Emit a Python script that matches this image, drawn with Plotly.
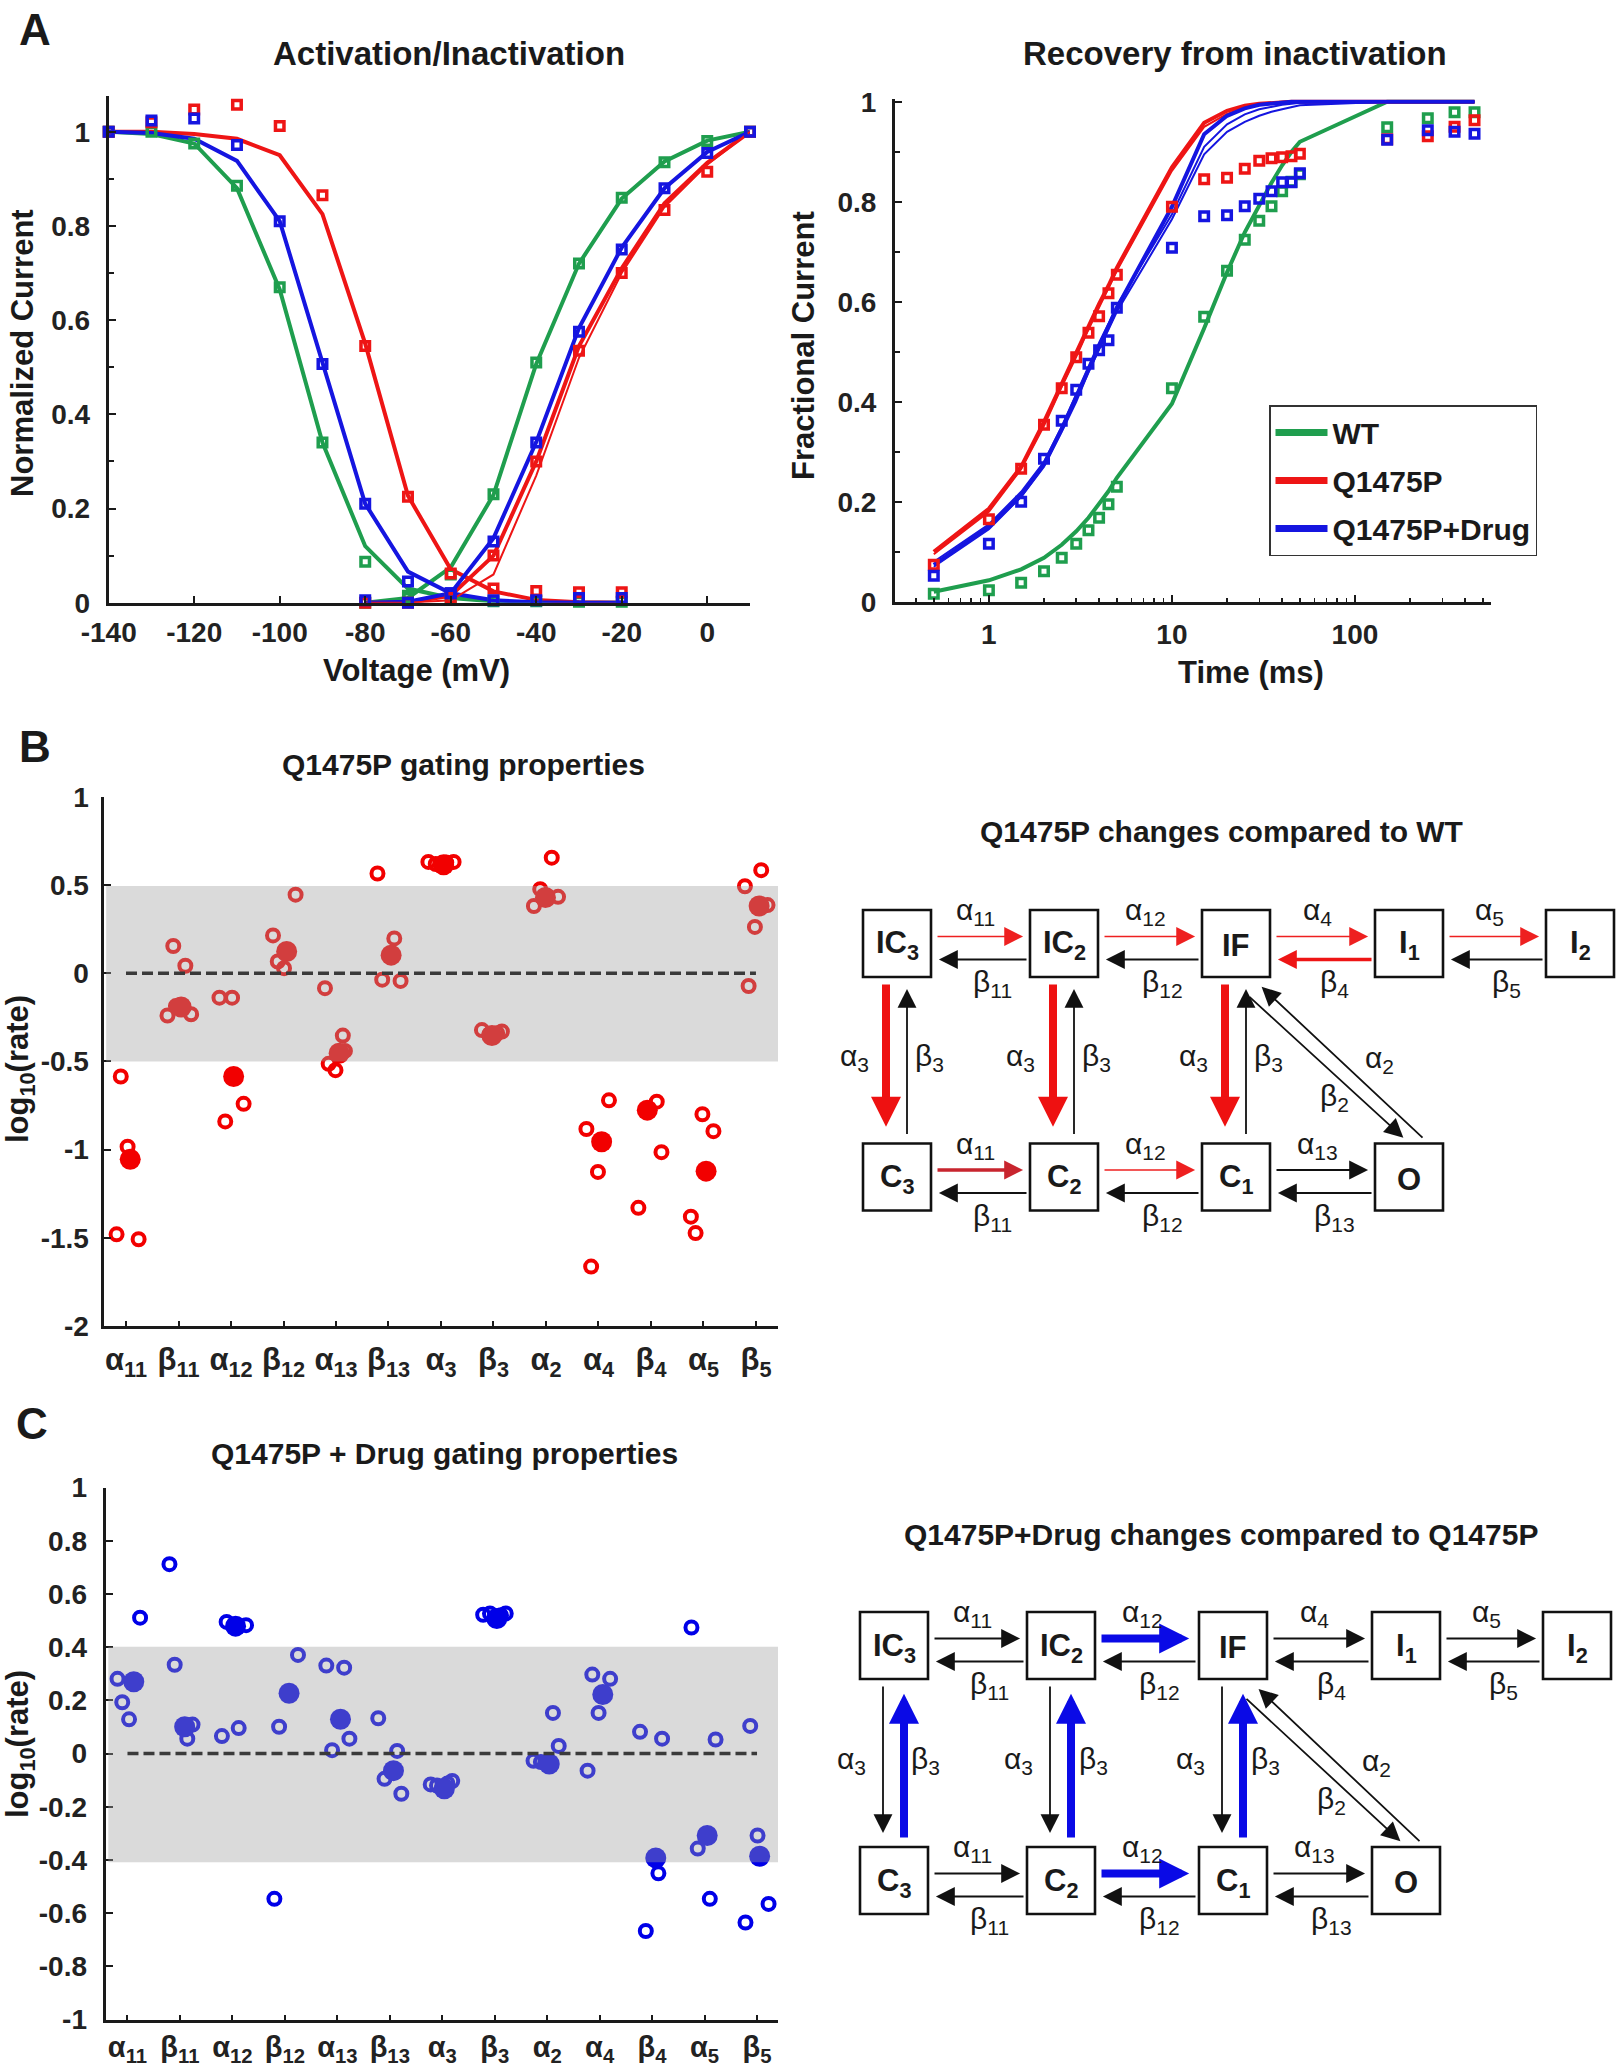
import plotly.graph_objects as go

W, H = 1616, 2070
FONT = "Arial, Liberation Sans, Helvetica, sans-serif"
INK = "#1a1a1a"

GREEN = "#1f9e4e"
RED = "#ee1515"
BLUE = "#1515e0"
DOT_RED = "#f20000"
DOT_BLUE = "#0000e8"

# ---------------------------------------------------------------- panel A left
V_INACT = [-140, -130, -120, -110, -100, -90, -80, -70, -60, -50, -40, -30, -20]
V_ACT = [-80, -70, -60, -50, -40, -30, -20, -10, 0, 10]

INACT_FIT = {
    "WT": [1.0, 0.995, 0.975, 0.88, 0.665, 0.34, 0.12, 0.03, 0.01, 0.003, 0.0, 0.0, 0.0],
    "Q1475P": [1.0, 1.0, 0.995, 0.985, 0.95, 0.825, 0.55, 0.227, 0.071, 0.024, 0.006, 0.001, 0.0],
    "Drug": [1.0, 0.997, 0.985, 0.938, 0.81, 0.507, 0.21, 0.066, 0.02, 0.005, 0.001, 0.0, 0.0],
}
INACT_OBS = {
    "WT": [1.0, 1.0, 0.975, 0.885, 0.67, 0.34, 0.087, 0.015, 0.01, 0.003, 0.003, 0.002, 0.002],
    "Q1475P": [1.0, 1.02, 1.047, 1.057, 1.012, 0.865, 0.545, 0.225, 0.062, 0.03, 0.025, 0.022, 0.022],
    "Drug": [1.0, 1.024, 1.028, 0.972, 0.81, 0.507, 0.21, 0.045, 0.02, 0.005, 0.005, 0.01, 0.01],
}
ACT_FIT = {
    "WT": [0.0, 0.01, 0.075, 0.229, 0.507, 0.72, 0.858, 0.937, 0.981, 1.0],
    "Q1475P": [0.0, 0.0, 0.015, 0.10, 0.30, 0.545, 0.71, 0.848, 0.934, 1.0],
    "Drug": [0.0, 0.002, 0.02, 0.137, 0.341, 0.583, 0.754, 0.88, 0.957, 1.0],
}
ACT_FIT_RED_ALT = [0.0, 0.0, 0.005, 0.06, 0.27, 0.52, 0.70, 0.84, 0.93, 1.0]
ACT_OBS = {
    "WT": [0.0, 0.01, 0.06, 0.23, 0.51, 0.72, 0.86, 0.935, 0.98, 1.0],
    "Q1475P": [0.0, 0.0, 0.01, 0.10, 0.30, 0.535, 0.70, 0.834, 0.915, 1.0],
    "Drug": [0.005, 0.0, 0.02, 0.13, 0.34, 0.575, 0.75, 0.88, 0.955, 1.0],
}

# --------------------------------------------------------------- panel A right
T_REC = [0.5, 1, 1.5, 2, 2.5, 3, 3.5, 4, 4.5, 5, 10, 15, 20, 25, 30, 35, 40, 45, 50,
         150, 250, 350, 450]
REC_OBS = {
    "WT": [0.016, 0.023, 0.038, 0.061, 0.088, 0.116, 0.143, 0.168, 0.195, 0.23, 0.427,
           0.57, 0.662, 0.724, 0.762, 0.791, 0.821, 0.84, 0.855, 0.949, 0.967, 0.979, 0.979],
    "Q1475P": [0.074, 0.165, 0.266, 0.354, 0.427, 0.489, 0.538, 0.571, 0.617, 0.654, 0.79,
               0.845, 0.848, 0.866, 0.882, 0.887, 0.889, 0.891, 0.896, 0.925, 0.931, 0.95, 0.963],
    "Drug": [0.052, 0.116, 0.2, 0.286, 0.362, 0.424, 0.476, 0.503, 0.523, 0.588, 0.708,
             0.771, 0.773, 0.791, 0.806, 0.821, 0.839, 0.839, 0.857, 0.924, 0.943, 0.94, 0.936],
}
REC_FIT_WT = [0.02, 0.043, 0.065, 0.088, 0.114, 0.141, 0.168, 0.195, 0.221, 0.248, 0.396,
              0.547, 0.659, 0.739, 0.793, 0.838, 0.873, 0.90, 0.92, 1.0, 1.0, 1.0, 1.0]
REC_FIT_RED = [
    [0.10, 0.186, 0.27, 0.36, 0.436, 0.498, 0.552, 0.596, 0.632, 0.668, 0.869,
     0.958, 0.982, 0.992, 0.996, 0.998, 1.0, 1.0, 1.0, 1.0, 1.0, 1.0, 1.0],
    [0.095, 0.18, 0.265, 0.352, 0.43, 0.49, 0.545, 0.59, 0.627, 0.662, 0.862,
     0.95, 0.976, 0.988, 0.994, 0.997, 0.999, 1.0, 1.0, 1.0, 1.0, 1.0, 1.0],
]
REC_FIT_BLUE = [
    [0.074, 0.15, 0.213, 0.275, 0.346, 0.409, 0.467, 0.512, 0.552, 0.588, 0.79,
     0.935, 0.972, 0.987, 0.994, 0.997, 0.999, 1.0, 1.0, 1.0, 1.0, 1.0, 1.0],
    [0.08, 0.155, 0.22, 0.28, 0.35, 0.415, 0.47, 0.518, 0.556, 0.592, 0.775,
     0.91, 0.955, 0.975, 0.985, 0.99, 0.994, 0.996, 0.998, 1.0, 1.0, 1.0, 1.0],
    [0.07, 0.145, 0.21, 0.27, 0.34, 0.40, 0.46, 0.505, 0.545, 0.58, 0.765,
     0.895, 0.94, 0.96, 0.972, 0.98, 0.985, 0.99, 0.993, 1.0, 1.0, 1.0, 1.0],
]

# ------------------------------------------------------------ panels B/C dots
RATES = ["α<sub>11</sub>", "β<sub>11</sub>", "α<sub>12</sub>", "β<sub>12</sub>",
         "α<sub>13</sub>", "β<sub>13</sub>", "α<sub>3</sub>", "β<sub>3</sub>",
         "α<sub>2</sub>", "α<sub>4</sub>", "β<sub>4</sub>", "α<sub>5</sub>", "β<sub>5</sub>"]

# (jitter offset, log10 rate) of the individual fits, one list per rate
Q_FITS = [
    [(-0.10, -0.585), (0.03, -0.983), (-0.18, -1.48), (0.24, -1.508)],
    [(-0.10, 0.155), (0.13, 0.043), (-0.21, -0.239), (0.24, -0.232), (-0.05, -0.186)],
    [(-0.22, -0.138), (0.02, -0.138), (-0.11, -0.84), (0.24, -0.74)],
    [(-0.20, 0.215), (0.23, 0.446), (-0.11, 0.067), (0.01, 0.029)],
    [(-0.21, -0.084), (0.13, -0.353), (0.17, -0.44), (-0.14, -0.513), (-0.01, -0.549)],
    [(-0.21, 0.566), (0.11, 0.198), (-0.12, -0.036), (0.23, -0.043)],
    [(-0.24, 0.632), (-0.10, 0.62), (0.10, 0.628), (0.24, 0.632)],
    [(-0.22, -0.322), (-0.08, -0.346), (0.16, -0.33), (0.07, -0.34)],
    [(0.11, 0.656), (-0.11, 0.477), (-0.23, 0.382), (0.23, 0.434)],
    [(0.20, -0.72), (-0.23, -0.883), (-0.01, -1.126), (-0.14, -1.663)],
    [(0.11, -0.728), (0.20, -1.014), (-0.24, -1.33)],
    [(-0.02, -0.799), (0.19, -0.895), (-0.24, -1.38), (-0.15, -1.473)],
    [(0.10, 0.585), (-0.21, 0.494), (0.22, 0.387), (-0.02, 0.263), (-0.14, -0.072)],
]
Q_MEAN = [(0.08, -1.055), (0.05, -0.191), (0.05, -0.585), (0.06, 0.124), (0.06, -0.453),
          (0.05, 0.103), (0.05, 0.616), (-0.03, -0.353), (-0.01, 0.43), (0.06, -0.955),
          (-0.07, -0.776), (0.05, -1.122), (0.06, 0.382)]

D_FITS = [
    [(-0.19, 0.281), (-0.10, 0.193), (0.03, 0.129), (0.24, 0.511)],
    [(-0.20, 0.712), (-0.10, 0.334), (0.24, 0.109), (0.14, 0.056)],
    [(-0.11, 0.495), (0.26, 0.483), (-0.20, 0.066), (0.12, 0.096)],
    [(0.25, 0.371), (-0.11, 0.101), (-0.20, -0.546)],
    [(-0.21, 0.331), (0.13, 0.323), (0.23, 0.056), (-0.10, 0.013)],
    [(-0.22, 0.133), (0.14, 0.01), (-0.10, -0.095), (0.22, -0.151)],
    [(-0.22, -0.116), (-0.10, -0.12), (0.19, -0.103), (0.10, -0.112)],
    [(-0.22, 0.522), (-0.09, 0.527), (0.21, 0.527), (0.12, 0.52)],
    [(0.11, 0.153), (0.22, 0.029), (-0.26, -0.027), (-0.12, -0.032)],
    [(-0.14, 0.297), (0.20, 0.281), (-0.02, 0.153), (-0.23, -0.064)],
    [(-0.23, 0.082), (0.19, 0.056), (0.12, -0.45), (-0.12, -0.667)],
    [(-0.25, 0.474), (0.21, 0.053), (-0.13, -0.357), (0.10, -0.546)],
    [(-0.13, 0.104), (0.01, -0.308), (0.22, -0.565), (-0.22, -0.635)],
]
D_MEAN = [(0.12, 0.27), (0.09, 0.101), (0.06, 0.479), (0.08, 0.227), (0.06, 0.129),
          (0.07, -0.064), (0.04, -0.132), (0.04, 0.508), (0.04, -0.039), (0.06, 0.222),
          (0.07, -0.392), (0.05, -0.308), (0.05, -0.386)]

# --------------------------------------------------------- Markov scheme (B/C)
STATES = {
    "IC3": (0, 0, "IC<sub>3</sub>"), "IC2": (1, 0, "IC<sub>2</sub>"), "IF": (2, 0, "IF"),
    "I1": (3, 0, "I<sub>1</sub>"), "I2": (4, 0, "I<sub>2</sub>"),
    "C3": (0, 1, "C<sub>3</sub>"), "C2": (1, 1, "C<sub>2</sub>"), "C1": (2, 1, "C<sub>1</sub>"),
    "O": (3, 1, "O"),
}
H_LINKS = [("IC3", "IC2", "11"), ("IC2", "IF", "12"), ("IF", "I1", "4"), ("I1", "I2", "5"),
           ("C3", "C2", "11"), ("C2", "C1", "12"), ("C1", "O", "13")]
V_LINKS = [("IC3", "C3"), ("IC2", "C2"), ("IF", "C1")]

ARROW_STYLES = {
    "k": dict(color="#111111", width=1.8, size=2.1),
    "r_thin": dict(color="#ee2020", width=1.3, size=2.9),
    "r_mid": dict(color="#ee1515", width=3.6, size=1.05),
    "r_dark": dict(color="#c8252e", width=3.6, size=1.05),
    "r_bold": dict(color="#ee1111", width=8, size=0.75),
    "b_bold": dict(color="#0a0ae6", width=8, size=0.75),
}
SCHEME_B = {("IC3", "IC2"): "r_thin", ("IC2", "IF"): "r_thin", ("IF", "I1"): "r_thin",
            ("I1", "I2"): "r_thin", ("C3", "C2"): "r_dark", ("C2", "C1"): "r_thin",
            ("I1", "IF"): "r_mid", ("IC3", "C3"): "r_bold", ("IC2", "C2"): "r_bold",
            ("IF", "C1"): "r_bold"}
SCHEME_C = {("IC2", "IF"): "b_bold", ("C2", "C1"): "b_bold", ("C3", "IC3"): "b_bold",
            ("C2", "IC2"): "b_bold", ("C1", "IF"): "b_bold"}


def X(px):
    return px / W


def Y(py):
    return 1 - py / H


annotations = []
shapes = []


def text(s, x, y, size, bold=True, angle=0, color=INK):
    annotations.append(dict(
        text=s, x=X(x), y=Y(y), xref="paper", yref="paper", showarrow=False,
        xanchor="center", yanchor="middle", textangle=angle,
        font=dict(family=FONT, size=size, color=color, weight="bold" if bold else "normal"),
    ))


def arrow(tail, head, style):
    st = ARROW_STYLES[style]
    scale = st["width"] * st["size"]
    annotations.append(dict(
        text="", x=X(head[0]), y=Y(head[1]), xref="paper", yref="paper",
        ax=tail[0] - head[0], ay=tail[1] - head[1], axref="pixel", ayref="pixel",
        showarrow=True, arrowhead=2, arrowcolor=st["color"], arrowwidth=st["width"],
        arrowsize=st["size"], standoff=1.3 * scale,
    ))


def draw_scheme(cols, rows, overrides, title, title_y):
    hw, hh = 34, 33.5
    pos = {k: (cols[c], rows[r]) for k, (c, r, _) in STATES.items()}
    text(title, 1221, title_y, 30)
    for k, (c, r, lab) in STATES.items():
        x, y = pos[k]
        shapes.append(dict(type="rect", xref="paper", yref="paper",
                           x0=X(x - hw), x1=X(x + hw), y0=Y(y + hh), y1=Y(y - hh),
                           line=dict(color="#111111", width=2.6), fillcolor="white"))
        text(lab, x, y + 2, 31)
    for a, b, sub in H_LINKS:
        (xa, y), (xb, _) = pos[a], pos[b]
        arrow((xa + hw + 5, y - 7), (xb - hw - 2, y - 7), overrides.get((a, b), "k"))
        arrow((xb - hw - 2, y + 16), (xa + hw + 3, y + 16), overrides.get((b, a), "k"))
        mid = (xa + xb) / 2
        text(f"α<sub>{sub}</sub>", mid - 5, y - 32, 30, bold=False)
        text(f"β<sub>{sub}</sub>", mid + 12, y + 40, 30, bold=False)
    for a, b in V_LINKS:
        (x, ya), (_, yb) = pos[a], pos[b]
        arrow((x - 11, ya + hh + 6), (x - 11, yb - hh - 9), overrides.get((a, b), "k"))
        arrow((x + 10, yb - hh - 8), (x + 10, ya + hh + 7), overrides.get((b, a), "k"))
        ym = (ya + yb) / 2 - 3
        text("α<sub>3</sub>", x - 43, ym, 30, bold=False)
        text("β<sub>3</sub>", x + 32, ym, 30, bold=False)
    (xi, yi), (xo, yo) = pos["IF"], pos["O"]
    arrow((xi + 12, yi + 52), (xo - 2, yo - 36), "k")
    arrow((xo + 15, yo - 38), (xi + 22, yi + 40), "k")
    text("α<sub>2</sub>", xo - 30, yo - 118, 30, bold=False)
    text("β<sub>2</sub>", xo - 75, yo - 80, 30, bold=False)


fig = go.Figure()

# ---- A left
keys = [("WT", GREEN), ("Q1475P", RED), ("Drug", BLUE)]
for key, col in keys:
    fig.add_trace(go.Scatter(x=V_INACT, y=INACT_FIT[key], mode="lines", line=dict(color=col, width=4),
                             xaxis="x", yaxis="y", showlegend=False, hoverinfo="skip"))
    fig.add_trace(go.Scatter(x=V_ACT, y=ACT_FIT[key], mode="lines", line=dict(color=col, width=4),
                             xaxis="x", yaxis="y", showlegend=False, hoverinfo="skip"))
fig.add_trace(go.Scatter(x=V_ACT, y=ACT_FIT_RED_ALT, mode="lines", line=dict(color=RED, width=2),
                         xaxis="x", yaxis="y", showlegend=False, hoverinfo="skip"))
for key, col in keys:
    mk = dict(symbol="square-open", size=8.5, color=col, line=dict(width=3.5))
    fig.add_trace(go.Scatter(x=V_INACT, y=INACT_OBS[key], mode="markers", marker=mk,
                             xaxis="x", yaxis="y", showlegend=False, cliponaxis=False))
    fig.add_trace(go.Scatter(x=V_ACT, y=ACT_OBS[key], mode="markers", marker=mk,
                             xaxis="x", yaxis="y", showlegend=False, cliponaxis=False))

# ---- A right
fig.add_trace(go.Scatter(x=T_REC, y=REC_FIT_WT, mode="lines", line=dict(color=GREEN, width=4),
                         xaxis="x2", yaxis="y2", showlegend=False))
for i, ys in enumerate(REC_FIT_RED):
    fig.add_trace(go.Scatter(x=T_REC, y=ys, mode="lines", line=dict(color=RED, width=4 if i == 0 else 2),
                             xaxis="x2", yaxis="y2", showlegend=False))
for i, ys in enumerate(REC_FIT_BLUE):
    fig.add_trace(go.Scatter(x=T_REC, y=ys, mode="lines", line=dict(color=BLUE, width=4 if i == 0 else 2),
                             xaxis="x2", yaxis="y2", showlegend=False))
for key, col in keys:
    fig.add_trace(go.Scatter(x=T_REC, y=REC_OBS[key], mode="markers",
                             marker=dict(symbol="square-open", size=8.5, color=col, line=dict(width=3.5)),
                             xaxis="x2", yaxis="y2", showlegend=False, cliponaxis=False))
for (key, col), name in zip(keys, ["WT", "Q1475P", "Q1475P+Drug"]):
    fig.add_trace(go.Scatter(x=[None], y=[None], mode="lines", name=name, legendgroup=name,
                             line=dict(color=col, width=7), xaxis="x2", yaxis="y2"))

# ---- B and C dot plots
for fits, means, col, xa, ya in [(Q_FITS, Q_MEAN, DOT_RED, "x3", "y3"),
                                 (D_FITS, D_MEAN, DOT_BLUE, "x4", "y4")]:
    xs = [i + 1 + off for i, pts in enumerate(fits) for off, _ in pts]
    ys = [v for pts in fits for _, v in pts]
    fig.add_trace(go.Scatter(x=xs, y=ys, mode="markers", xaxis=xa, yaxis=ya, showlegend=False,
                             marker=dict(symbol="circle-open", size=12, color=col, line=dict(width=4))))
    fig.add_trace(go.Scatter(x=[i + 1 + m[0] for i, m in enumerate(means)], y=[m[1] for m in means],
                             mode="markers", xaxis=xa, yaxis=ya, showlegend=False,
                             marker=dict(symbol="circle", size=21, color=col, line=dict(width=0))))

# gray band sits on top of the dots (translucent), then the zero reference
for xa, ya, lo, hi in [("x3", "y3", -0.5, 0.495), ("x4", "y4", -0.408, 0.402)]:
    shapes.append(dict(type="rect", xref=f"{xa} domain", yref=ya, x0=0.004, x1=1, y0=lo, y1=hi,
                       fillcolor="rgba(160,160,160,0.39)", line=dict(width=0), layer="above"))
    shapes.append(dict(type="line", xref=xa, yref=ya, x0=1, x1=13, y0=0, y1=0, layer="above",
                       line=dict(color="#3a3a3a", width=3.5, dash="11px,5px")))

# ---- axes
tick_font = dict(family=FONT, size=28, color="#222222", weight="bold")
base = dict(showline=True, linecolor=INK, linewidth=3, ticks="inside", ticklen=7, tickwidth=2,
            tickcolor=INK, showgrid=False, zeroline=False, tickfont=tick_font, fixedrange=True,
            automargin=False)


def fmt(v):
    return f"{round(v, 2):g}"


a_y = [0, 0.2, 0.4, 0.6, 0.8, 1.0]
a_x = list(range(-140, 1, 20))
log_minor = [m * 10 ** e for e in range(-1, 3) for m in range(2, 10)]
b_y = [-2, -1.5, -1, -0.5, 0, 0.5, 1]
c_y = [round(-1 + 0.2 * i, 1) for i in range(11)]
cats = list(range(1, 14))

fig.update_layout(
    width=W, height=H, margin=dict(l=0, r=0, t=0, b=0, pad=0, autoexpand=False),
    paper_bgcolor="white", plot_bgcolor="white",
    font=dict(family=FONT, color=INK),
    xaxis=dict(base, domain=[0.06727, 0.46411], range=[-140, 10], tickvals=a_x,
               ticktext=[str(v) for v in a_x], ticklabelstandoff=3, anchor="y"),
    yaxis=dict(base, domain=[0.70884, 0.95367], range=[0, 1.076], tickvals=a_y,
               ticktext=[fmt(v) for v in a_y], ticklabelstandoff=10, anchor="x",
               minor=dict(ticks="inside", dtick=0.1, ticklen=5, tickwidth=2, tickcolor=INK)),
    xaxis2=dict(base, domain=[0.55384, 0.92240], type="log", range=[-0.513, 2.741],
                tickvals=[1, 10, 100], ticktext=["1", "10", "100"], ticklabelstandoff=6, anchor="y2",
                minor=dict(ticks="inside", tickvals=log_minor, ticklen=4, tickwidth=1.5, tickcolor=INK)),
    yaxis2=dict(base, domain=[0.70928, 0.95203], range=[0, 1.005], tickvals=a_y,
                ticktext=[fmt(v) for v in a_y], ticklabelstandoff=10, anchor="x2",
                minor=dict(ticks="inside", dtick=0.1, ticklen=5, tickwidth=2, tickcolor=INK)),
    xaxis3=dict(base, domain=[0.06405, 0.48144], range=[0.571, 13.42], tickvals=cats, ticktext=RATES,
                ticklen=5, ticklabelstandoff=4, anchor="y3",
                tickfont=dict(tick_font, size=31)),
    yaxis3=dict(base, domain=[0.35942, 0.61498], range=[-2, 1], tickvals=b_y,
                ticktext=[fmt(v) for v in b_y], ticklabelstandoff=6, anchor="x3"),
    xaxis4=dict(base, domain=[0.06535, 0.48144], range=[0.583, 13.40], tickvals=cats, ticktext=RATES,
                ticklen=5, ticklabelstandoff=0, anchor="y4",
                tickfont=dict(tick_font, size=29)),
    yaxis4=dict(base, domain=[0.02435, 0.28135], range=[-1, 1], tickvals=c_y,
                ticktext=[fmt(v) for v in c_y], ticklabelstandoff=10, anchor="x4"),
    legend=dict(x=X(1269), y=Y(405), xanchor="left", yanchor="top", bgcolor="white",
                bordercolor="#333333", borderwidth=1.5, itemwidth=52, tracegroupgap=6,
                font=dict(family=FONT, size=30, color=INK, weight="bold")),
)

# ---- titles and labels
text("A", 35, 29, 44)
text("B", 35, 746, 44)
text("C", 32, 1423, 44)
text("Activation/Inactivation", 449, 54, 33)
text("Recovery from inactivation", 1235, 54, 33)
text("Normalized Current", 22, 353, 31, angle=-90)
text("Fractional Current", 803, 346, 31, angle=-90)
text("Voltage (mV)", 416, 671, 31)
text("Time (ms)", 1251, 672, 31)
text("Q1475P gating properties", 464, 764, 30)
text("Q1475P + Drug gating properties", 444, 1453, 30)
text("log<sub>10</sub>(rate)", 20, 1069, 31, angle=-90)
text("log<sub>10</sub>(rate)", 20, 1744, 31, angle=-90)

COLS = [897, 1064, 1236, 1409, 1580]
draw_scheme(COLS, (943.5, 1177), SCHEME_B, "Q1475P changes compared to WT", 831)
draw_scheme([c - 3 for c in COLS], (1645.5, 1880.5), SCHEME_C,
            "Q1475P+Drug changes compared to Q1475P", 1534)

fig.update_layout(annotations=annotations, shapes=shapes)
fig.write_html("out.html", config={"displayModeBar": False, "staticPlot": True},
               post_script="document.body.style.margin='0';")
